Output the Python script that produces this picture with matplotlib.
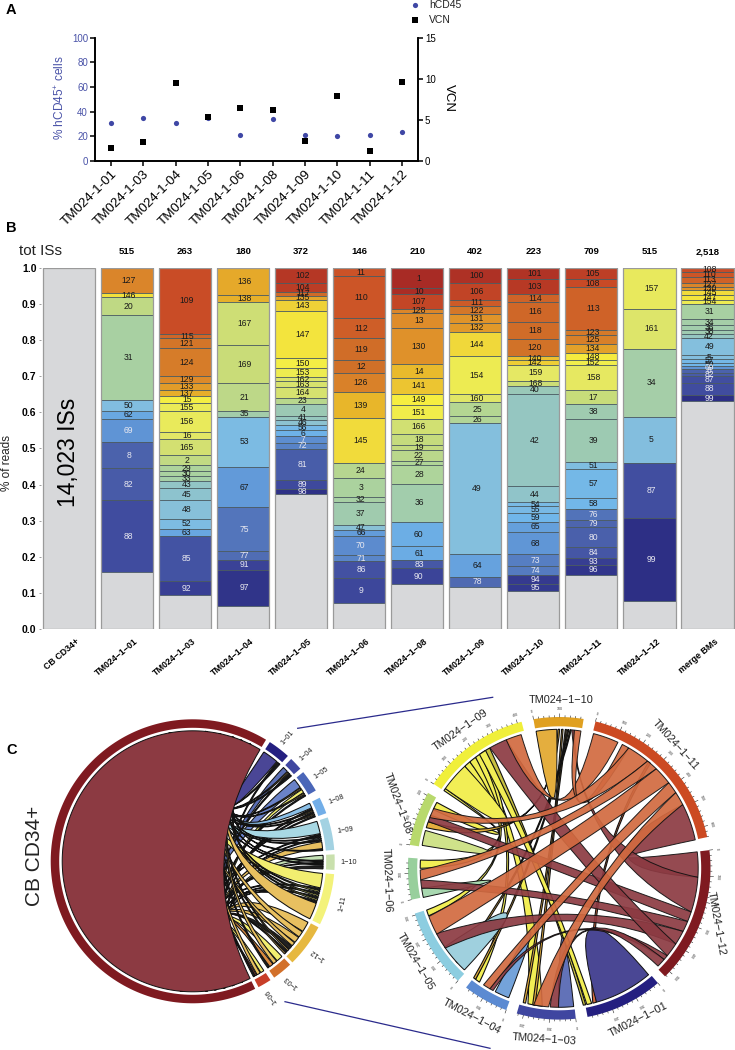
import numpy as np
import matplotlib
matplotlib.use("Agg")
import matplotlib.pyplot as plt
from matplotlib.colors import LinearSegmentedColormap
from matplotlib.patches import PathPatch
from matplotlib.path import Path

plt.rcParams['font.family'] = ['Liberation Sans', 'DejaVu Sans']
plt.rcParams['mathtext.default'] = 'regular'

W, H = 735, 1050
BLUE_TXT = '#4a53a8'

# panel A
mice = ['TM024-1-01', 'TM024-1-03', 'TM024-1-04', 'TM024-1-05', 'TM024-1-06',
        'TM024-1-08', 'TM024-1-09', 'TM024-1-10', 'TM024-1-11', 'TM024-1-12']
hcd45 = [30.5, 34.5, 30.5, 34.5, 21, 34, 20.5, 20, 20.5, 23]
vcn = [1.5, 2.3, 9.5, 5.3, 6.4, 6.2, 2.35, 7.9, 1.15, 9.6]

# panel B, each clone id with the lower edge of its band
bar_names = ['CB CD34+', 'TM024\u22121\u221201', 'TM024\u22121\u221203', 'TM024\u22121\u221204',
             'TM024\u22121\u221205', 'TM024\u22121\u221206', 'TM024\u22121\u221208', 'TM024\u22121\u221209',
             'TM024\u22121\u221210', 'TM024\u22121\u221211', 'TM024\u22121\u221212', 'merge BMs']
tot_iss = ['', '515', '263', '180', '372', '146', '210', '402', '223', '709', '515', '2,518']

ids_01 = [127, 146, 20, 31, 50, 62, 69, 8, 82, 88]
low_01 = [.929, .918, .868, .634, .605, .581, .518, .445, .357, .159]
ids_03 = [109, 115, 121, 124, 129, 133, 137, 15, 155, 156, 16, 165, 2, 29, 30, 33, 43, 45, 48, 52, 63, 85, 92]
low_03 = [.816, .805, .777, .700, .680, .662, .644, .626, .603, .546, .525, .481, .454, .438, .424,
          .409, .390, .357, .306, .277, .258, .133, .094]
ids_04 = [136, 138, 167, 169, 21, 35, 53, 67, 75, 77, 91, 97]
low_04 = [.924, .904, .785, .680, .603, .588, .448, .337, .217, .191, .165, .065]
ids_05 = [102, 104, 117, 135, 143, 147, 150, 153, 162, 163, 164, 23, 4, 41, 46, 56, 6, 7, 72, 81, 89, 98]
low_05 = [.957, .934, .922, .911, .881, .749, .722, .697, .686, .669, .639, .624, .591, .578, .564,
          .550, .535, .516, .499, .412, .387, .373]
ids_06 = [11, 110, 112, 119, 12, 126, 139, 145, 24, 3, 32, 37, 47, 66, 70, 71, 86, 9]
low_06 = [.976, .860, .805, .744, .710, .657, .583, .459, .418, .365, .352, .288, .275, .259, .205,
          .189, .141, .072]
ids_08 = [1, 10, 107, 128, 13, 130, 14, 141, 149, 151, 166, 18, 19, 22, 27, 28, 36, 60, 61, 83, 90]
low_08 = [.943, .928, .885, .876, .832, .733, .694, .652, .620, .581, .539, .509, .496, .466, .454,
          .401, .298, .229, .192, .169, .124]
ids_09 = [100, 106, 111, 122, 131, 132, 144, 154, 160, 25, 26, 49, 64, 78]
low_09 = [.959, .912, .894, .872, .846, .821, .755, .651, .628, .590, .570, .207, .144, .118]
ids_10 = [101, 103, 114, 116, 118, 120, 140, 142, 159, 168, 40, 42, 44, 54, 55, 59, 65, 68, 73, 74, 94, 95]
low_10 = [.970, .926, .906, .849, .802, .755, .744, .731, .687, .674, .651, .395, .351, .340, .321,
          .298, .268, .209, .174, .150, .124, .107]
ids_11 = [105, 108, 113, 123, 125, 134, 148, 152, 158, 17, 38, 39, 51, 57, 58, 76, 79, 80, 84, 93, 96]
low_11 = [.968, .946, .828, .813, .789, .763, .746, .730, .661, .622, .581, .462, .442, .362, .332,
          .302, .282, .227, .197, .179, .150]
ids_12 = [157, 161, 34, 5, 87, 99]
low_12 = [.887, .776, .588, .461, .307, .079]
ids_mg = [108, 110, 113, 127, 130, 145, 147, 154, 31, 34, 36, 38, 42, 49, 5, 57, 59, 69, 8, 82, 87, 88, 99]
low_mg = [.988, .975, .959, .948, .937, .925, .912, .899, .857, .841, .829, .816, .805, .758, .747,
          .737, .728, .719, .710, .700, .682, .648, .630]
bar_ids = [[], ids_01, ids_03, ids_04, ids_05, ids_06, ids_08, ids_09, ids_10, ids_11, ids_12, ids_mg]
bar_lows = [[], low_01, low_03, low_04, low_05, low_06, low_08, low_09, low_10, low_11, low_12, low_mg]

# panel C left, degrees
left_names = ['1\u221201', '1\u221204', '1\u221205', '1\u221208', '1\u221209', '1\u221210', '1\u221211',
              '1\u221212', '1\u221203', '1\u221206']
left_start = [57.1, 46.1, 38.9, 26.6, 18, 2.8, -5.2, -27.7, -46.7, -56.8]
left_end = [47.9, 40.7, 29.9, 19.8, 4.6, -3.5, -26.3, -45.4, -55, -62.4]
left_cols = ['#241f80', '#3f46a0', '#4a66b8', '#72aee8', '#a3d2e2', '#c9e0ad', '#f3f27a',
             '#e6b840', '#d2702a', '#c83e28']
left_rot = [50, 42, 35, 22, 8, 0, 78, 145, 140, 125]
Y, G, D = '#f2ee70', '#e8c060', '#222222'
left_w = [[8, 1, 1], [3, 1, 1, 1], [5, 1, 2, 1, 1], [3, 1, 1, 1, 1, 1], [7, 1, 1, 1, 1, 4, 1],
          [3, 1, 1, 1, 2], [7, 1, 1, 1, 1, 1, 1, 1, 8], [5, 3, 3, 2, 2, 1, 1, 1], [3, 2, 2, 1], [2, 2, 1, 1]]
left_c = [['#4a4696', D, D], ['#5b6fb5', G, D, D], ['#6a82c8', G, Y, G, D],
          ['#8cc0e8', D, G, D, G, D], ['#a8d8e4', D, D, '#a8d8e4', D, G, D],
          ['#c5e2b5', D, '#c5e2b5', D, D], [Y, D, Y, D, Y, D, Y, D, G],
          [G, G, G, G, D, G, D, G], [Y, G, '#d98a40', D], [Y, G, '#c8503a', D]]
red_top, red_bottom = 58.9, -63.9

# panel C right, degrees
right_names = ['TM024\u22121\u221210', 'TM024\u22121\u221211', 'TM024\u22121\u221212', 'TM024\u22121\u221201',
               'TM024\u22121\u221203', 'TM024\u22121\u221204', 'TM024\u22121\u221205', 'TM024\u22121\u221206',
               'TM024\u22121\u221208', 'TM024\u22121\u221209']
right_start = [99.8, 76.1, 6.9, -49.3, -83.7, -110.5, -132, -168, 171.1, 146.1]
right_end = [80.7, 11.9, -45.6, -79.2, -106.3, -128, -162.6, -184, 150.1, 104.4]
right_cols = ['#e0a020', '#cc4a22', '#7f1a20', '#241f80', '#3f46a0', '#5b8ad2', '#8ccde0',
              '#98cf9c', '#b8d96c', '#f0ef3a']
right_lab_x = [190.7, 305, 346.7, 268.3, 174, 101.7, 45, 16.7, 27.3, 90.7]
right_lab_y = [30, 75, 253.3, 350, 369.3, 346.7, 291.7, 210, 133.3, 60]
right_lab_rot = [0, -48, -80, 27, -4, -28, -60, -88, -70, 35]

RR, OR, YL, GD = '#8c3a42', '#d26a40', '#f2ee55', '#e4ae3e'
# own-colour wedges
blob_a = [-50, 145, 99.6, 170.5, -167.9, -133, -111.3, -84]
blob_b = [-74.4, 132.8, 91, 164.2, -171.7, -145.5, -117.4, -90.3]
blob_c = ['#4a4794', YL, GD, '#cfe28a', '#a8d8b0', '#9fd0de', '#74a3da', '#6272b8']
# links between mice
link_a1 = [27.3, -3.7, -18.3, -22.5, -27, -33, -39, -41, 75.7, 63, 60, 50.5, 45.7, 38, 33]
link_a2 = [11.8, -18.3, -22.5, -27, -33, -39, -41, -44.7, 65, 60, 50.5, 45.7, 38, 33, 27.3]
link_b1 = [6.8, 84.8, 160.3, -171.8, -145, 119.9, -118.4, -90.3, 112.4, 83.7, 158.6, -175.2, -151.7, -119.9, -94.4]
link_b2 = [-3.7, 83.8, 157.5, -175.2, -152, 112.4, -120, -93.7, 105.9, 81, 154.5, -179.3, -159.7, -123, -100.6]
link_c = [RR, RR, RR, RR, RR, RR, RR, RR, OR, OR, OR, OR, OR, OR, OR]
thin_a1 = [155, 132.8, 130, 127, 124.5, 122.5, 90.5, 89, 87.5, 86.5, 85.5, -74.5, -76.5]
thin_a2 = [151.7, 130, 127, 124.5, 122.5, 120, 89.8, 88.4, 87, 86, 85, -76, -78.5]
thin_b1 = [146, 180, -160, -97, -125, -79, 163, -100, -104, -127, -137, 50, 125]
thin_b2 = [145, 176.6, -162.5, -103, -127, -80, 160.5, -101, -105, -128, -138, 49, 122]
thin_c = [YL, YL, YL, YL, YL, '#c8c040', GD, GD, GD, GD, GD, OR, YL]


def polar(cx, cy, r, deg):
    a = np.radians(deg)
    return cx + r * np.cos(a), cy - r * np.sin(a)


def arc_pts(cx, cy, r, a, b):
    n = max(int(abs(a - b) / 1.5) + 2, 2)
    return [polar(cx, cy, r, d) for d in np.linspace(a, b, n)]


def ring(ax, cx, cy, r0, r1, a, b, col, z=3):
    pts = arc_pts(cx, cy, r1, a, b) + arc_pts(cx, cy, r0, b, a)
    ax.fill([p[0] for p in pts], [p[1] for p in pts], color=col, lw=0, zorder=z)


def ctrl(cx, cy, p, q, k0):
    # near chords bend through the centre, far ones keep some width
    mx, my = (p[0] + q[0]) / 2 - cx, (p[1] + q[1]) / 2 - cy
    r = np.hypot(p[0] - cx, p[1] - cy)
    c = np.hypot(mx, my) / r
    k = k0 * (1 - c)
    return cx + k * mx, cy + k * my


def ribbon(ax, cx, cy, r, a1, a2, b1, b2, col, z=2, alpha=1.0, lw=0.7, k0=0.0):
    pa = arc_pts(cx, cy, r, a1, a2)
    pb = arc_pts(cx, cy, r, b1, b2)
    verts = pa + [ctrl(cx, cy, pa[-1], pb[0], k0), pb[0]] + pb[1:] + [ctrl(cx, cy, pb[-1], pa[0], k0), pa[0]]
    codes = [Path.MOVETO] + [Path.LINETO] * (len(pa) - 1) + [Path.CURVE3, Path.CURVE3] \
        + [Path.LINETO] * (len(pb) - 1) + [Path.CURVE3, Path.CURVE3]
    ax.add_patch(PathPatch(Path(verts, codes), fc=col, ec='#111111', lw=lw, alpha=alpha, zorder=z))


def blob(ax, cx, cy, r, a, b, col, z=2, lw=0.7):
    pa = arc_pts(cx, cy, r, a, b)
    verts = pa + [(cx, cy), pa[0]]
    codes = [Path.MOVETO] + [Path.LINETO] * (len(pa) - 1) + [Path.CURVE3, Path.CURVE3]
    ax.add_patch(PathPatch(Path(verts, codes), fc=col, ec='#111111', lw=lw, zorder=z))


def px_axes(fig, x0, y0, x1, y1):
    return fig.add_axes([x0 / W, 1 - y1 / H, (x1 - x0) / W, (y1 - y0) / H])


fig = plt.figure(figsize=(W / 100, H / 100), dpi=100)

# ---- panel A
ax = px_axes(fig, 95, 37.7, 418, 160.7)
x = np.arange(len(mice))
ax.scatter(x, hcd45, s=14, color='#3f47a5', lw=0, zorder=3)
ax.set_xlim(-0.495, 9.5)
ax.set_ylim(0, 100)
ax.set_yticks([0, 20, 40, 60, 80, 100])
ax.tick_params(axis='y', labelcolor=BLUE_TXT, labelsize=7, length=3.5, width=1.1, pad=1.5)
ax.set_xticks(x)
ax.set_xticklabels(mice, rotation=45, ha='right', va='top', rotation_mode='anchor', fontsize=9.6)
ax.tick_params(axis='x', length=3.5, width=1.1, pad=2)
ax.spines['top'].set_visible(False)
for s in ['left', 'right', 'bottom']:
    ax.spines[s].set_linewidth(1.2)
ax.patch.set_alpha(0)
ax2 = ax.twinx()
ax2.scatter(x, vcn, s=15, marker='s', color='black', lw=0, zorder=4)
ax2.set_ylim(0, 15)
ax2.set_yticks([0, 5, 10, 15])
ax2.tick_params(axis='y', labelsize=7, length=3.5, width=1.1, pad=1.5)
ax2.spines['top'].set_visible(False)
for s in ['left', 'right', 'bottom']:
    ax2.spines[s].set_linewidth(1.2)

# ---- panel B
axb = px_axes(fig, 40.6, 267.7, 735, 629.3)
axb.set_xlim(-0.4875, 11.475)
axb.set_ylim(0, 1)
for s in axb.spines.values():
    s.set_visible(False)
all_ids = sorted({i for ids in bar_ids for i in ids} | set(range(1, 170)), key=str)
rank = {i: n for n, i in enumerate(all_ids)}
n_ids = len(all_ids) - 1
stops = [(0, '#a82b25'), (10, '#c84a26'), (15, '#cf6028'), (23, '#d07028'), (33, '#dd8a2a'), (44, '#e8b52a'),
         (50, '#f0d83a'), (55, '#f6ef40'), (66, '#e5e864'), (77, '#c9dc78'), (90, '#aed49a'),
         (103, '#9cc9b4'), (113, '#85bfdd'), (124, '#70b6ea'), (135, '#5f94d5'), (146, '#4d66ae'),
         (157, '#3f4a9e'), (168, '#2d2f85')]
cmap = LinearSegmentedColormap.from_list('clones', [(k / n_ids, c) for k, c in stops])
for i, (ids, lows) in enumerate(zip(bar_ids, bar_lows)):
    axb.bar(i, 1, width=0.9, color='#d7d8da', lw=0, zorder=1)
    top = 1.0
    for cid, low in zip(ids, lows):
        axb.bar(i, top - low, bottom=low, width=0.9, color=cmap(rank[cid] / n_ids),
                edgecolor='#4a5a60', lw=0.55, zorder=2)
        tcol = '#e8e8f0' if rank[cid] >= 135 else '#1a1a1a'
        axb.text(i + 0.03, (top + low) / 2, str(cid), ha='center', va='center', fontsize=6.2,
                 color=tcol, zorder=4)
        top = low
    axb.bar(i, 1, width=0.9, fill=False, edgecolor='#9a9a9a', lw=0.9, zorder=3)
axb.set_yticks(np.arange(0, 1.01, 0.1))
axb.set_yticklabels(['%.1f' % v for v in np.arange(0, 1.01, 0.1)], fontsize=7.5, fontweight='bold')
axb.tick_params(axis='y', length=1.5, width=0.5, pad=1.5, color='#777777')
axb.set_xticks([])

# ---- overlay in pixels
ov = fig.add_axes([0, 0, 1, 1], zorder=5)
ov.set_xlim(0, W)
ov.set_ylim(H, 0)
ov.axis('off')

ov.text(6, 10, 'A', fontsize=10.5, fontweight='bold', ha='left', va='center')
ov.text(6, 228, 'B', fontsize=10.5, fontweight='bold', ha='left', va='center')
ov.text(6, 750, 'C', fontsize=10.5, fontweight='bold', ha='left', va='center')
ov.scatter([415], [5], s=14, color='#3f47a5', lw=0)
ov.scatter([415], [20], s=15, marker='s', color='black', lw=0)
ov.text(429, 5, 'hCD45', fontsize=7.5, va='center', color='#222222')
ov.text(429, 20, 'VCN', fontsize=7.5, va='center', color='#222222')
ov.text(60, 98, '% hCD45$^{+}$ cells', rotation=90, fontsize=8.6, color=BLUE_TXT, ha='center', va='center')
ov.text(449, 98, 'VCN', rotation=-90, fontsize=9.5, ha='center', va='center')

ov.text(19, 251, 'tot ISs', fontsize=11, va='center', color='#222222')
for i, t in enumerate(tot_iss):
    ov.text(68.9 + 58.05 * i, 252, t, fontsize=6.8, fontweight='bold', ha='center', va='center')
    ov.text(68.9 + 58.05 * i + 7, 637, bar_names[i], fontsize=6.4, fontweight='bold', rotation=40,
            ha='right', va='top', rotation_mode='anchor')
ov.text(7, 463, '% of reads', rotation=90, fontsize=8.5, ha='center', va='center', color='#222222')
ov.text(69, 452, '14,023 ISs', rotation=90, fontsize=16.5, ha='center', va='center')

# connector lines
ov.plot([297.7, 492.7], [728.3, 697.3], color='#2a2a8c', lw=0.9)
ov.plot([285, 490], [1001.7, 1048.3], color='#2a2a8c', lw=0.9)

# ---- left chord
cx, cy, r = 192.7, 861.3, 130.5
targets = [64, -68, 72, -76, 84, -84, 100, -95, 68, -72, 78, -80]
k = 0
for s0, s1, ws, cs in zip(left_start, left_end, left_w, left_c):
    edges = s0 + (s1 - s0) * np.cumsum([0] + ws) / sum(ws)
    for a, b, c in zip(edges[:-1], edges[1:], cs):
        t = targets[k % len(targets)]
        k += 1
        ribbon(ov, cx, cy, r, a - 0.15, b + 0.15, t + 0.4, t - 0.4, c, z=2, lw=0.75)
blob(ov, cx, cy, r, red_top, 360 + red_bottom, '#8c3a42', z=3, lw=0.7)
ring(ov, cx, cy, 133.5, 142, red_top, 360 + red_bottom, '#7f1a20')
for s0, s1, c, name, rot in zip(left_start, left_end, left_cols, left_names, left_rot):
    ring(ov, cx, cy, 133.5, 142, s0, s1, c)
    lx, ly = polar(cx, cy, 156, (s0 + s1) / 2)
    ov.text(lx, ly, name, fontsize=5.2, rotation=rot, ha='center', va='center', color='#222222')
ov.text(35, 856, 'CB CD34+', rotation=90, fontsize=15, ha='center', va='center', color='#222222')

# ---- right chord
cx, cy, r = 559.2, 868.3, 139
for a1, a2, b1, b2, c in zip(thin_a1, thin_a2, thin_b1, thin_b2, thin_c):
    ribbon(ov, cx, cy, r, a1, a2, b1, b2, c, z=2, lw=0.8, k0=0.7)
for a, b, c in zip(blob_a, blob_b, blob_c):
    blob(ov, cx, cy, r, a, b, c, z=3)
for a1, a2, b1, b2, c in zip(link_a1, link_a2, link_b1, link_b2, link_c):
    ribbon(ov, cx, cy, r, a1, a2, b1, b2, c, z=4, alpha=0.92, k0=0.8)
for s0, s1, c, name, lx, ly, rot in zip(right_start, right_end, right_cols, right_names,
                                        right_lab_x, right_lab_y, right_lab_rot):
    ring(ov, cx, cy, 142, 151.3, s0, s1, c, z=5)
    ticks = np.arange(s0, s1, -2.0)
    for n, d in enumerate(ticks):
        major = n % 5 == 0
        p0 = polar(cx, cy, 151.3, d)
        p1 = polar(cx, cy, 154.5 if major else 152.8, d)
        ov.plot([p0[0], p1[0]], [p0[1], p1[1]], color='#222222', lw=0.4, zorder=5)
        if major:
            tx, ty = polar(cx, cy, 159, d)
            ov.text(tx, ty, str(n * 20), fontsize=2.6, ha='center', va='center',
                    rotation=d - 90, color='#333333')
    ov.text(370 + lx, 670 + ly, name, fontsize=7.8, rotation=rot, ha='center', va='center', color='#222222')

fig.savefig('out.png', dpi=100)
